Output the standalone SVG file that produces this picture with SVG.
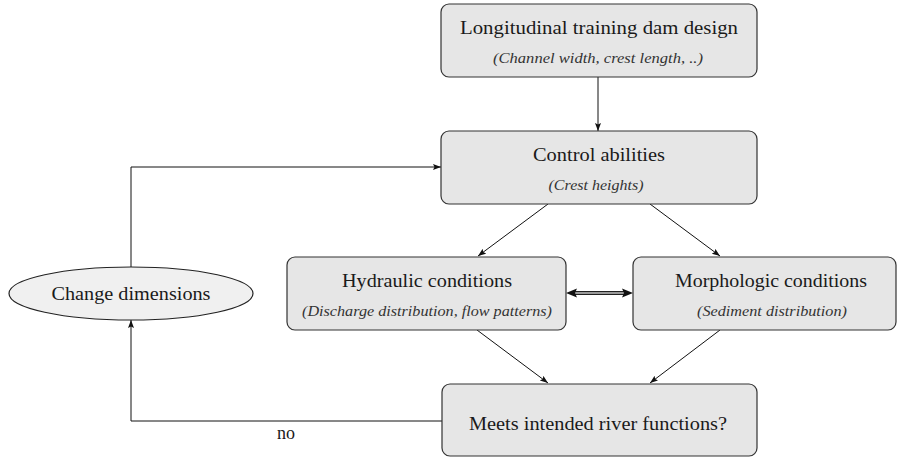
<svg xmlns="http://www.w3.org/2000/svg" width="899" height="457" viewBox="0 0 899 457" font-family="Liberation Serif">
<defs>
<marker id="ah" markerUnits="userSpaceOnUse" markerWidth="10" markerHeight="8" refX="8" refY="3" orient="auto">
<path d="M0,0 L8,3 L0,6 L1.5,3 Z" fill="#111"/>
</marker>
</defs>
<style>
.box{fill:#e6e6e6;stroke:#333;stroke-width:1.2}
.ell{fill:#f0f0f0;stroke:#222;stroke-width:1.2}
.t{font-size:19px;fill:#1a1a1a;text-anchor:middle}
.s{font-size:14px;font-style:italic;fill:#333;text-anchor:middle}
.c{fill:none;stroke:#111;stroke-width:1}
</style>
<rect width="899" height="457" fill="#fff"/>
<g id="connectors">
<line class="c" x1="598" y1="77" x2="598" y2="131" marker-end="url(#ah)"/>
<path class="c" d="M131,267 V167 H441" marker-end="url(#ah)"/>
<line class="c" x1="548" y1="204" x2="478" y2="256" marker-end="url(#ah)"/>
<line class="c" x1="650" y1="204" x2="720" y2="256" marker-end="url(#ah)"/>
<line class="c" x1="477" y1="330" x2="548" y2="383" marker-end="url(#ah)"/>
<line class="c" x1="720" y1="330" x2="650" y2="383" marker-end="url(#ah)"/>
<path class="c" d="M442,421 H131 V320" marker-end="url(#ah)"/>
<line x1="574" y1="293" x2="625" y2="293" stroke="#222" stroke-width="4.2"/>
<line x1="574" y1="293" x2="625" y2="293" stroke="#999" stroke-width="2"/>
<path d="M566,293 L577,288.5 L575,293 L577,297.5 Z" fill="#111"/>
<path d="M633,293 L622,288.5 L624,293 L622,297.5 Z" fill="#111"/>
<text class="t" style="font-family:'Liberation Serif',serif" x="286" y="439" textLength="18" lengthAdjust="spacingAndGlyphs">no</text>
</g>
<g id="design">
<rect class="box" x="441" y="4" width="316" height="73" rx="8"/>
<text class="t" style="font-family:'Liberation Serif',serif" x="599" y="34" textLength="278" lengthAdjust="spacingAndGlyphs">Longitudinal training dam design</text>
<text class="s" style="font-family:'Liberation Serif',serif" x="598" y="63" textLength="210" lengthAdjust="spacingAndGlyphs">(Channel width, crest length, ..)</text>
</g>
<g id="control">
<rect class="box" x="441" y="131" width="316" height="73" rx="8"/>
<text class="t" style="font-family:'Liberation Serif',serif" x="599" y="161" textLength="132" lengthAdjust="spacingAndGlyphs">Control abilities</text>
<text class="s" style="font-family:'Liberation Serif',serif" x="596" y="190" textLength="95" lengthAdjust="spacingAndGlyphs">(Crest heights)</text>
</g>
<g id="hydraulic">
<rect class="box" x="287" y="257" width="279" height="73" rx="8"/>
<text class="t" style="font-family:'Liberation Serif',serif" x="427" y="287" textLength="170" lengthAdjust="spacingAndGlyphs">Hydraulic conditions</text>
<text class="s" style="font-family:'Liberation Serif',serif" x="427" y="316" textLength="250" lengthAdjust="spacingAndGlyphs">(Discharge distribution, flow patterns)</text>
</g>
<g id="morphologic">
<rect class="box" x="633" y="257" width="263" height="73" rx="8"/>
<text class="t" style="font-family:'Liberation Serif',serif" x="771" y="287" textLength="192" lengthAdjust="spacingAndGlyphs">Morphologic conditions</text>
<text class="s" style="font-family:'Liberation Serif',serif" x="772" y="316" textLength="150" lengthAdjust="spacingAndGlyphs">(Sediment distribution)</text>
</g>
<g id="change">
<ellipse class="ell" cx="131" cy="293.5" rx="122" ry="26.5"/>
<text class="t" style="font-family:'Liberation Serif',serif" x="131" y="300" textLength="159" lengthAdjust="spacingAndGlyphs">Change dimensions</text>
</g>
<g id="meets">
<rect class="box" x="442" y="384" width="315" height="72" rx="8"/>
<text class="t" style="font-family:'Liberation Serif',serif" x="598" y="430" textLength="258" lengthAdjust="spacingAndGlyphs">Meets intended river functions?</text>
</g>
</svg>
